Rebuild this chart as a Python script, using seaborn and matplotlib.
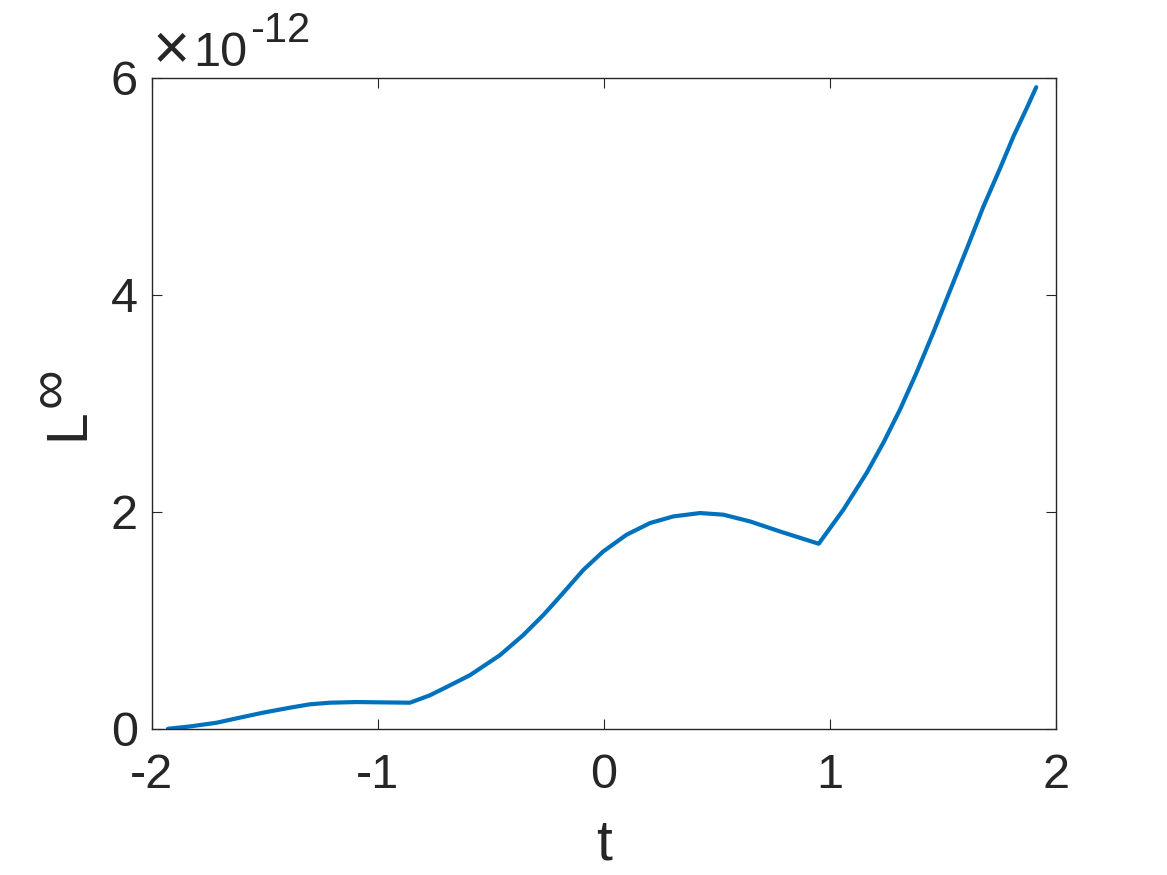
import numpy as np
import pandas as pd
import seaborn as sns
import matplotlib.pyplot as plt
from matplotlib.ticker import ScalarFormatter

# values (y in units of 1e-12)
t = [-1.928, -1.832, -1.714, -1.611, -1.508, -1.389, -1.301, -1.212, -1.094,
     -0.976, -0.858, -0.770, -0.681, -0.593, -0.460, -0.357, -0.268, -0.195,
     -0.091, -0.003, 0.100, 0.204, 0.307, 0.425, 0.528, 0.646, 0.779, 0.950,
     1.059, 1.162, 1.236, 1.310, 1.383, 1.457, 1.531, 1.605, 1.678, 1.752,
     1.811, 1.870, 1.912]
err = [0.002, 0.023, 0.057, 0.104, 0.150, 0.196, 0.227, 0.242, 0.248,
       0.245, 0.242, 0.310, 0.402, 0.495, 0.680, 0.865, 1.050, 1.219,
       1.466, 1.636, 1.790, 1.898, 1.959, 1.990, 1.975, 1.913, 1.820, 1.707,
       2.021, 2.36, 2.638, 2.946, 3.286, 3.656, 4.042, 4.427, 4.813, 5.167,
       5.460, 5.722, 5.915]
err = [e * 1e-12 for e in err]

xticks = [-2, -1, 0, 1, 2]
yticks = [0, 2e-12, 4e-12, 6e-12]

df = pd.DataFrame({"t": t, "err": err})

sns.set_theme(style="ticks")
plt.rcParams['font.family'] = ['Liberation Sans', 'DejaVu Sans']
plt.rcParams['axes.unicode_minus'] = False

txt = '#262626'
fig = plt.figure(figsize=(11.67, 8.75), dpi=100)
ax = fig.add_axes([0.130, 0.1669, 0.775, 0.744])

sns.lineplot(data=df, x="t", y="err", ax=ax, color='#0072BD', linewidth=3.0)

ax.set_xlim(-2, 2)
ax.set_ylim(0, 6e-12)
ax.set_xticks(xticks)
ax.set_yticks(yticks)

fmt = ScalarFormatter()
fmt.set_powerlimits((0, 0))
ax.yaxis.set_major_formatter(fmt)
ax.yaxis.get_offset_text().set_visible(False)

for s in ax.spines.values():
    s.set_visible(True)
    s.set_color(txt)
    s.set_linewidth(1.0)

ax.tick_params(direction='in', length=7, width=0.8, colors=txt,
               labelsize=35, top=True, right=True)
ax.tick_params(axis='x', pad=17)
ax.tick_params(axis='y', pad=10)

ax.set_xlabel('t', fontsize=41, color=txt, labelpad=14)
ax.set_ylabel('')

# y label "L^inf" and the exponent above the axis, MATLAB style
fig.text(0.0587, 0.5154, 'L', rotation=90, fontsize=41, color=txt,
         ha='center', va='center')
fig.text(0.0441, 0.5577, '\u221e', rotation=90, fontsize=40, color=txt,
         ha='center', va='center')
fig.text(0.1465, 0.9406, '\u00d7', fontsize=46, color=txt,
         ha='center', va='center', fontweight='light')
fig.text(0.1654, 0.9246, '10', fontsize=35, color=txt,
         ha='left', va='baseline')
fig.text(0.2142, 0.952, '-12', fontsize=30, color=txt,
         ha='left', va='baseline')

fig.savefig('out.png', dpi=100)
